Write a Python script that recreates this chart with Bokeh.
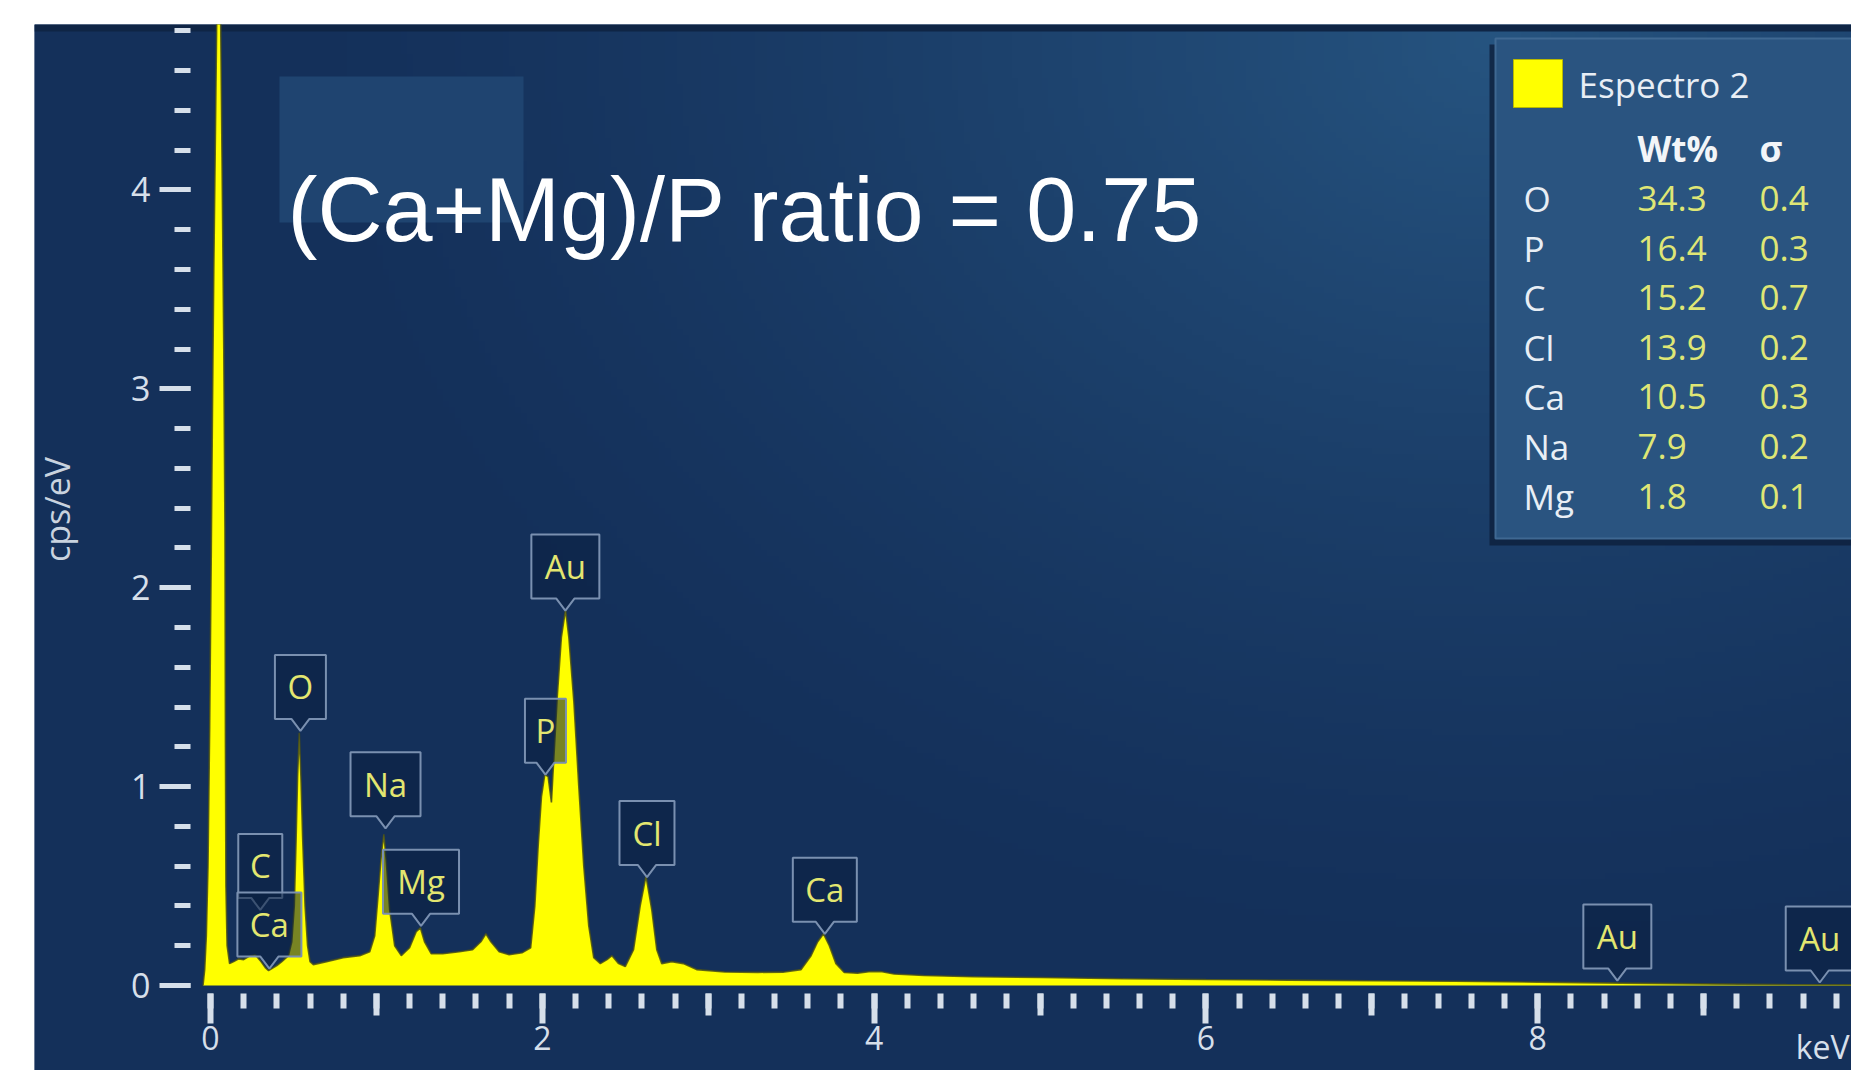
import numpy as np
from bokeh.plotting import figure
from bokeh.models import (Range1d, LinearAxis, FixedTicker, Spacer)
from bokeh.layouts import column, row
from bokeh.core.properties import value
from bokeh.embed import file_html
from bokeh.resources import INLINE

# ---------------- data ----------------
energy_kev = [-0.045, -0.035, -0.025, -0.015, -0.005, 0.005, 0.012, 0.02, 0.03, 0.045,
              0.055, 0.07, 0.08, 0.087, 0.09, 0.093, 0.1, 0.115, 0.14, 0.17,
              0.2, 0.24, 0.27, 0.3, 0.33, 0.35, 0.37, 0.4, 0.43, 0.47,
              0.49, 0.505, 0.515, 0.525, 0.535, 0.545, 0.555, 0.57, 0.585, 0.6,
              0.62, 0.7, 0.8, 0.9, 0.96, 0.99, 1.01, 1.03, 1.045, 1.06,
              1.08, 1.11, 1.15, 1.2, 1.24, 1.265, 1.29, 1.33, 1.4, 1.5,
              1.58, 1.63, 1.66, 1.69, 1.74, 1.8, 1.88, 1.93, 1.955, 1.975,
              1.995, 2.015, 2.035, 2.055, 2.07, 2.09, 2.115, 2.14, 2.16, 2.19,
              2.22, 2.25, 2.28, 2.31, 2.35, 2.39, 2.42, 2.46, 2.5, 2.55,
              2.59, 2.625, 2.66, 2.69, 2.72, 2.78, 2.85, 2.93, 3.1, 3.3,
              3.45, 3.56, 3.62, 3.66, 3.695, 3.73, 3.77, 3.82, 3.9, 3.98,
              4.04, 4.12, 4.3, 4.6, 5.0, 5.5, 6.0, 6.5, 7.0, 7.5,
              8.0, 8.5, 9.0, 9.5, 9.9]
counts_cps_ev = [0.0, 0.08, 0.25, 0.6, 1.3, 2.2, 2.9, 3.6, 4.3, 5.4,
                 5.4, 4.1, 3.2, 2.3, 1.2, 0.5, 0.2, 0.11, 0.12, 0.134,
                 0.13, 0.15, 0.155, 0.125, 0.09, 0.075, 0.085, 0.1, 0.12, 0.15,
                 0.22, 0.4, 0.7, 1.05, 1.27, 1.05, 0.75, 0.4, 0.2, 0.12,
                 0.105, 0.12, 0.14, 0.15, 0.17, 0.25, 0.45, 0.66, 0.76, 0.62,
                 0.38, 0.2, 0.15, 0.19, 0.27, 0.29, 0.22, 0.16, 0.16, 0.17,
                 0.18, 0.22, 0.26, 0.22, 0.17, 0.155, 0.165, 0.19, 0.4, 0.7,
                 0.95, 1.06, 1.05, 0.92, 1.15, 1.45, 1.75, 1.89, 1.75, 1.43,
                 1.0, 0.6, 0.3, 0.14, 0.11, 0.13, 0.15, 0.11, 0.095, 0.18,
                 0.4, 0.55, 0.38, 0.18, 0.11, 0.12, 0.11, 0.08, 0.068, 0.066,
                 0.067, 0.08, 0.15, 0.22, 0.26, 0.2, 0.11, 0.065, 0.062, 0.07,
                 0.07, 0.058, 0.05, 0.044, 0.04, 0.034, 0.03, 0.027, 0.024, 0.021,
                 0.017, 0.012, 0.008, 0.005, 0.004]

peak_labels = ["C", "Ca", "O", "Na", "Mg", "P", "Au", "Cl", "Ca", "Au", "Au"]
peak_label_kev = [0.30, 0.355, 0.542, 1.055, 1.269, 2.019, 2.139, 2.631, 3.703, 8.48, 9.70]
peak_label_tip = [0.38, 0.085, 1.28, 0.79, 0.30, 1.06, 1.885, 0.545, 0.26, 0.025, 0.015]

quant_elements = ["O", "P", "C", "Cl", "Ca", "Na", "Mg"]
quant_wt = [34.3, 16.4, 15.2, 13.9, 10.5, 7.9, 1.8]
quant_sigma = [0.4, 0.3, 0.7, 0.2, 0.3, 0.2, 0.1]
spectrum_name = "Espectro 2"
ratio_text = "(Ca+Mg)/P ratio = 0.75"
x_axis_unit = "keV"
y_axis_label = "cps/eV"
x_major_ticks = [0, 2, 4, 6, 8]
x_mid_ticks = [1, 3, 5, 7, 9]
y_major_ticks = [0, 1, 2, 3, 4]

# ---------------- layout / style ----------------
PX_KEV, X0_PAGE = 165.9, 210.0      # page px per keV, page x of 0 keV
PX_UNIT, Y0_PAGE = 198.9, 985.0     # page px per cps/eV, page y of 0
FIG_L, FIG_T = 34, 24               # page position of the dark panel
FIG_W, FIG_H = 1817, 1046
AXIS_X_PAGE, AXIS_Y_PAGE = 190, 993  # where the tick rows start


def kx(px):
    return (px - X0_PAGE) / PX_KEV


def vy(py):
    return (Y0_PAGE - py) / PX_UNIT


x_start, x_end = kx(FIG_L), kx(FIG_L + FIG_W)
y_start, y_end = vy(FIG_T + FIG_H), vy(FIG_T)

BG = (20, 48, 90)
HI = (38, 84, 128)
BG_HEX = "#%02x%02x%02x" % BG
TICK = "#d6dfea"
FONT = "Open Sans"

p = figure(width=FIG_W, height=FIG_H, x_range=Range1d(x_start, x_end),
           y_range=Range1d(y_start, y_end), x_axis_location=None, y_axis_location=None,
           output_backend="svg", toolbar_location=None,
           min_border_left=0, min_border_right=0, min_border_top=0, min_border_bottom=0,
           background_fill_color=BG_HEX, border_fill_color=BG_HEX, outline_line_color=None)
p.grid.visible = False

# background gradient
H, W = 175, 303
gy, gx = np.mgrid[0:H, 0:W]
page_x = FIG_L + (gx + 0.5) * (FIG_W / W)
page_y = FIG_T + FIG_H - (gy + 0.5) * (FIG_H / H)
d = np.sqrt((page_x - 1500.0) ** 2 + ((page_y - 40.0) * 1.3) ** 2)
t = np.clip(1 - d / 1250.0, 0, 1) ** 1.4
img = np.empty((H, W), dtype=np.uint32)
view = img.view(dtype=np.uint8).reshape((H, W, 4))
for k in range(3):
    view[:, :, k] = (BG[k] + t * (HI[k] - BG[k])).astype(np.uint8)
view[:, :, 3] = 255
p.image_rgba(image=[img], x=x_start, y=y_start, dw=x_end - x_start, dh=y_end - y_start)

# dark strip at top and lighter patch behind the ratio text
p.quad(left=kx(34), right=x_end, top=y_end, bottom=vy(31), fill_color="#0f2545", line_color=None)
p.quad(left=kx(279), right=kx(523), top=vy(76), bottom=vy(222), fill_color="#1f4470", line_color=None)

# spectrum
p.varea(x=energy_kev, y1=0, y2=counts_cps_ev, fill_color="#ffff00")
p.line(energy_kev, counts_cps_ev, line_color="#4a5018", line_width=1.6, line_alpha=0.85)

# callout labels
box_w = {"C": 44, "Ca": 64, "O": 51, "Na": 70, "Mg": 76, "P": 41, "Au": 68, "Cl": 55}
BOX_H, PTR_H, PTR_HW = 64, 12, 9
cxs, cys, tx, ty = [], [], [], []
for lab, e, tip in zip(peak_labels, peak_label_kev, peak_label_tip):
    hw = box_w[lab] / 2
    pts = [(0, 0), (-PTR_HW, PTR_H), (-hw, PTR_H), (-hw, PTR_H + BOX_H),
           (hw, PTR_H + BOX_H), (hw, PTR_H), (PTR_HW, PTR_H)]
    cxs.append([e + dx / PX_KEV for dx, _ in pts])
    cys.append([tip + dy / PX_UNIT for _, dy in pts])
    tx.append(e)
    ty.append(tip + (PTR_H + BOX_H / 2) / PX_UNIT)
p.patches(cxs, cys, fill_color="#0a1f40", fill_alpha=0.55, line_color="#7a90b0", line_width=2)
p.text(tx, ty, text=peak_labels, text_font=value(FONT), text_font_size="33px",
       text_color="#e3e670", text_align="center", text_baseline="middle")

# results panel
p.quad(left=kx(1489), right=kx(1900), top=vy(44), bottom=vy(545), fill_color="#0c1f3c",
       fill_alpha=0.8, line_color=None)
p.quad(left=kx(1495), right=kx(1900), top=vy(38), bottom=vy(538), fill_color="#2a5480",
       line_color="#3f6892", line_width=2)
p.quad(left=kx(1513), right=kx(1562), top=vy(59), bottom=vy(107), fill_color="#ffff00",
       line_color="#b8b800", line_width=1)
p.text([kx(1578)], [vy(84)], text=[spectrum_name], text_font=value(FONT), text_font_size="35px",
       text_color="#e8eef5", text_align="left", text_baseline="middle")
p.text([kx(1637), kx(1759)], [vy(148), vy(148)], text=["Wt%", "σ"], text_font=value(FONT),
       text_font_size="35px", text_font_style="bold", text_color="#f2f5f8",
       text_align="left", text_baseline="middle")
row_y = [vy(198 + i * 49.6) for i in range(len(quant_elements))]
p.text([kx(1523)] * len(quant_elements), row_y, text=quant_elements, text_font=value(FONT),
       text_font_size="35px", text_color="#e8eef5", text_align="left", text_baseline="middle")
p.text([kx(1637)] * len(quant_wt), row_y, text=["%.1f" % v for v in quant_wt],
       text_font=value(FONT), text_font_size="35px", text_color="#dfe675",
       text_align="left", text_baseline="middle")
p.text([kx(1759)] * len(quant_sigma), row_y, text=["%.1f" % v for v in quant_sigma],
       text_font=value(FONT), text_font_size="35px", text_color="#dfe675",
       text_align="left", text_baseline="middle")

# ratio annotation
p.text([kx(287)], [vy(209)], text=[ratio_text], text_font=value("Liberation Sans"),
       text_font_size="90px", text_color="#ffffff", text_align="left",
       text_baseline="middle")

# axis titles
p.text([kx(56)], [vy(509)], text=[y_axis_label], angle=np.pi / 2, text_font=value(FONT),
       text_font_size="34px", text_color="#c9d3df", text_align="center", text_baseline="middle")
p.text([kx(1849)], [vy(1046)], text=[x_axis_unit], text_font=value(FONT),
       text_font_size="32px", text_color=TICK, text_align="right", text_baseline="middle")


def axis(side, loc, ticker, out, minor_out, width, size, **kw):
    ax = LinearAxis(ticker=ticker, fixed_location=loc, axis_line_color=None,
                    major_tick_in=0, major_tick_out=out, minor_tick_in=0, minor_tick_out=minor_out,
                    major_tick_line_color=TICK, minor_tick_line_color=TICK,
                    major_tick_line_width=width, minor_tick_line_width=width,
                    major_label_text_color=TICK, major_label_text_font=FONT,
                    major_label_text_font_size=size, **kw)
    p.add_layout(ax, side)
    return ax


minor_02 = [round(0.2 * i, 1) for i in range(50)]
# y axis
axis("left", kx(AXIS_X_PAGE),
     FixedTicker(ticks=y_major_ticks, minor_ticks=[v for v in minor_02 if v <= 4.8]),
     31, 16, 5, "34px", major_label_standoff=9)
# x axes: long (labelled) and medium ticks
axis("below", vy(AXIS_Y_PAGE), FixedTicker(ticks=x_major_ticks, minor_ticks=minor_02),
     30, 15, 6, "32px", major_label_standoff=2)
axis("below", vy(AXIS_Y_PAGE), FixedTicker(ticks=x_mid_ticks, minor_ticks=[]),
     22, 0, 6, "32px", major_label_text_alpha=0)

layout = column(Spacer(width=FIG_L + FIG_W, height=FIG_T),
                row(Spacer(width=FIG_L, height=FIG_H), p))
open("out.html", "w").write(file_html(layout, INLINE))
